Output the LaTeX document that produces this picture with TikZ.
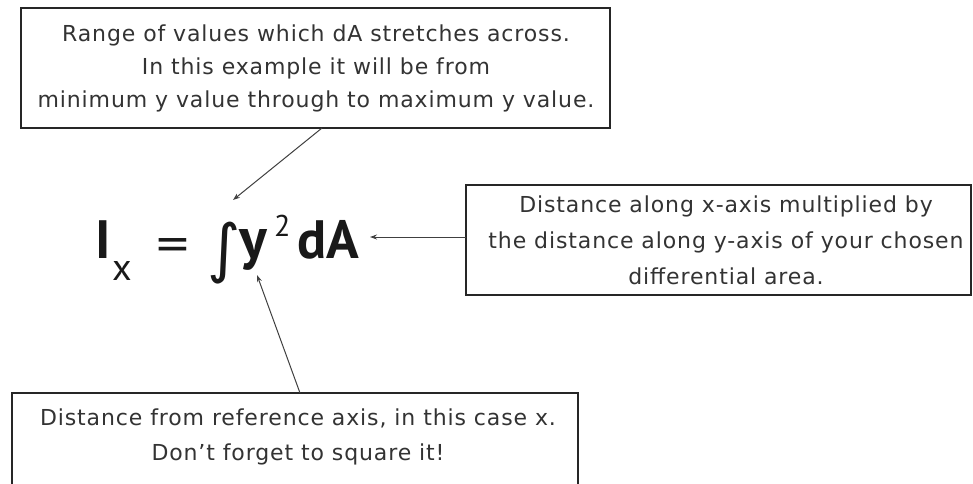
\documentclass[tikz,border=0pt]{standalone}
\usepackage{fontspec}
\usetikzlibrary{arrows.meta}
\setmainfont{DejaVu Sans}
\newfontfamily\formfont{PT Sans}
\newfontfamily\intfont{DejaVu Sans}
\newfontfamily\boxfont[LetterSpace=4]{DejaVu Sans}
\begin{document}
\begin{tikzpicture}[x=1pt,y=-1pt,
  boxline/.style={draw=black!85,line width=1.4pt,fill=white},
  note/.style={align=center,font=\boxfont\fontsize{22}{33}\selectfont,text=black!80,inner sep=0pt},
  fm/.style={anchor=base west,inner sep=0pt,text=black!90},
  conn/.style={draw=black!75,line width=1pt,-{Stealth[length=7pt,width=5pt]}}]
\useasboundingbox (0,0) rectangle (973,483);
\fill[white] (0,0) rectangle (973,483);
% boxes
\draw[boxline] (21,8) rectangle (610,128);
\node[note] (top) at (316,68) {Range of values which dA stretches across.\\In this example it will be from\\minimum y value through to maximum y value.};
\coordinate (topb) at (322,128);
\draw[boxline] (466,185) rectangle (971,295);
\node[note,font=\boxfont\fontsize{22}{36}\selectfont] (right) at (726,240) {Distance along x-axis multiplied by\\the distance along y-axis of your chosen\\differential area.};
\coordinate (rightl) at (466,237);
\draw[boxline] (12,393) rectangle (578,490);
\node[note,font=\boxfont\fontsize{22}{35}\selectfont] (bot) at (298,437) {Distance from reference axis, in this case x.\\Don’t forget to square it!};
\coordinate (bott) at (300,393);
% formula
\node[fm,font=\formfont\bfseries\fontsize{54}{54}\selectfont] (I) at (95,258) {I};
\node[fm,font=\formfont\fontsize{38}{38}\selectfont] (sx) at (112,280) {x};
\node[fm,font=\intfont\fontsize{44}{44}\selectfont] (eq) at (154,258) {=};
\node[fm,font=\intfont\fontsize{64}{64}\selectfont] (int) at (207,270) {∫};
\node[fm,font=\formfont\bfseries\fontsize{58}{58}\selectfont] (y) at (239,258) {y};
\node[fm,font=\formfont\fontsize{30}{30}\selectfont] (two) at (274,236) {2};
\node[fm,font=\formfont\bfseries\fontsize{54}{54}\selectfont] (dA) at (297,258) {dA};
\coordinate (ytip) at (257,275);
\coordinate (inttip) at (233,200);
\coordinate (dAtip) at (370,237);
% connectors
\draw[conn] (topb) -- (inttip);
\draw[conn] (rightl) -- (dAtip);
\draw[conn] (bott) -- (ytip);
\end{tikzpicture}
\end{document}
